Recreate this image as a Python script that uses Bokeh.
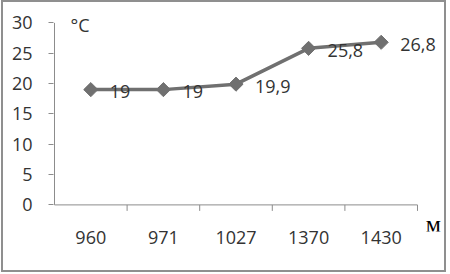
from bokeh.plotting import figure
from bokeh.models import Range1d, FixedTicker, LinearAxis, Label, ColumnDataSource
from bokeh.embed import file_html
from bokeh.resources import INLINE
import math

categories = ["960", "971", "1027", "1370", "1430"]
temps = [19, 19, 19.9, 25.8, 26.8]
value_labels = ["19", "19", "19,9", "25,8", "26,8"]
y_ticks = [0, 5, 10, 15, 20, 25, 30]
y_max = 30

xs = [i + 0.5 for i in range(len(categories))]
n = len(categories)
src = ColumnDataSource(dict(x=xs, y=temps, lab=value_labels))

FONT = "Open Sans"
TXT = "#333333"
AX = "#8c8c8c"

W, H = 445, 272
MB_L, MB_R, MB_T, MB_B = 50, 4, 4, 43
Y0, Y1 = -4.384, 32.7
X0, X1 = -0.0138, 5.372
y_per_px = (Y1 - Y0) / (H - MB_T - MB_B)
TICK = 6 * y_per_px

p = figure(width=W, height=H, output_backend="svg", toolbar_location=None,
           x_range=Range1d(X0, X1), y_range=Range1d(Y0, Y1),
           x_axis_type=None, y_axis_type=None,
           min_border_left=MB_L, min_border_right=MB_R, min_border_top=MB_T, min_border_bottom=MB_B)
p.styles = {"border": "2px solid #8f8f8f", "margin-left": "1px"}
p.xgrid.visible = False
p.ygrid.visible = False
p.outline_line_color = None
p.background_fill_color = "white"
p.border_fill_color = "white"

yax = LinearAxis(ticker=FixedTicker(ticks=y_ticks, minor_ticks=[]))
yax.axis_line_color = None
yax.major_tick_line_color = AX
yax.major_tick_in = 0
yax.major_tick_out = 5
yax.minor_tick_line_color = None
yax.major_label_standoff = 16
yax.major_label_text_font = FONT
yax.major_label_text_font_size = "18px"
yax.major_label_text_color = TXT
p.add_layout(yax, "left")

xax = LinearAxis(ticker=FixedTicker(ticks=xs, minor_ticks=[]))
xax.major_label_overrides = {x: c for x, c in zip(xs, categories)}
xax.axis_line_color = None
xax.major_tick_line_color = None
xax.major_tick_in = 0
xax.major_tick_out = 0
xax.minor_tick_line_color = None
xax.major_label_standoff = -1
xax.major_label_text_font = FONT
xax.major_label_text_font_size = "18px"
xax.major_label_text_color = TXT
p.add_layout(xax, "below")

# axis lines and category boundary ticks, drawn inside the frame
p.segment(x0=[0, 0], y0=[0, 0], x1=[n, 0], y1=[0, y_max], line_color=AX, line_width=1)
bounds = list(range(1, n + 1))
p.segment(x0=bounds, y0=[0] * n, x1=bounds, y1=[-TICK] * n, line_color=AX, line_width=1)

p.line("x", "y", source=src, line_color="#707070", line_width=3.5)
p.scatter("x", "y", source=src, marker="square", size=10, angle=math.pi / 4,
          fill_color="#707070", line_color="#707070")
p.text("x", "y", text="lab", source=src, x_offset=19, y_offset=2,
       text_font={"value": FONT}, text_font_size="18px", text_color=TXT,
       text_baseline="middle", text_align="left")

p.add_layout(Label(x=0.22, y=29.7, text="°C", text_font=FONT, text_font_size="18px",
                   text_color=TXT, text_baseline="middle"))
p.add_layout(Label(x=5.22, y=-3.23, text="м", text_font="Liberation Serif",
                   text_font_size="24px", text_color="#000000",
                   text_align="center", text_baseline="middle"))

open("out.html", "w").write(file_html(p, INLINE))
